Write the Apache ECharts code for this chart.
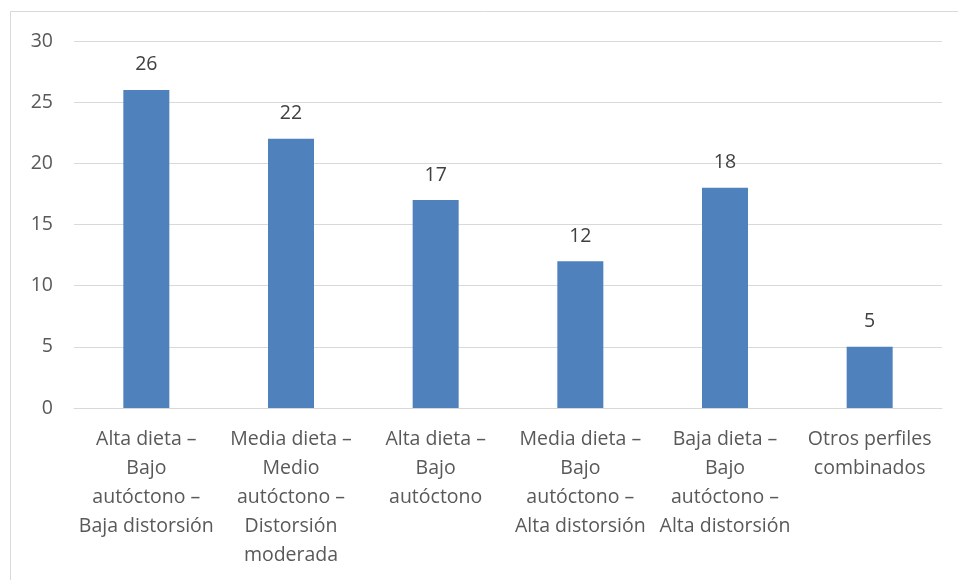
<!DOCTYPE html>
<html><head><meta charset="utf-8">
<script src="https://cdn.jsdelivr.net/npm/echarts@6/dist/echarts.min.js"></script>
<style>html,body{margin:0;padding:0;background:#fff}#c{width:958px;height:580px}</style>
</head><body><div id="c"></div>
<script>
const categories = [
  "Alta dieta –\nBajo\nautóctono –\nBaja distorsión",
  "Media dieta –\nMedio\nautóctono –\nDistorsión\nmoderada",
  "Alta dieta –\nBajo\nautóctono",
  "Media dieta –\nBajo\nautóctono –\nAlta distorsión",
  "Baja dieta –\nBajo\nautóctono –\nAlta distorsión",
  "Otros perfiles\ncombinados"
];
const values = [26, 22, 17, 12, 18, 5];
const yTicks = { min: 0, max: 30, interval: 5 };
const FONT = "'Open Sans', 'Noto Sans', sans-serif";
const chart = echarts.init(document.getElementById('c'), null, {renderer: 'canvas'});
chart.setOption({
  animation: false,
  graphic: [{type: 'rect', shape: {x: 10.5, y: 11.5, width: 960, height: 600}, style: {fill: 'none', stroke: '#d9d9d9', lineWidth: 1}, silent: true}],
  grid: {left: 74, right: 16, top: 41, bottom: 172},
  xAxis: {
    type: 'category', data: categories,
    axisLine: {lineStyle: {color: '#d9d9d9', width: 1}},
    axisTick: {show: false},
    axisLabel: {color: '#595959', fontFamily: FONT, fontSize: 19.5, lineHeight: 29, interval: 0, margin: 17}
  },
  yAxis: {
    type: 'value', min: yTicks.min, max: yTicks.max, interval: yTicks.interval,
    axisLine: {show: false}, axisTick: {show: false},
    splitLine: {lineStyle: {color: '#d9d9d9', width: 1}},
    axisLabel: {color: '#595959', fontFamily: FONT, fontSize: 19.5, margin: 21}
  },
  series: [{
    type: 'bar', data: values, barWidth: 46,
    itemStyle: {color: '#4F81BD'},
    label: {show: true, position: 'top', distance: 15, color: '#404040', fontFamily: FONT, fontSize: 19.5}
  }]
});
</script></body></html>
